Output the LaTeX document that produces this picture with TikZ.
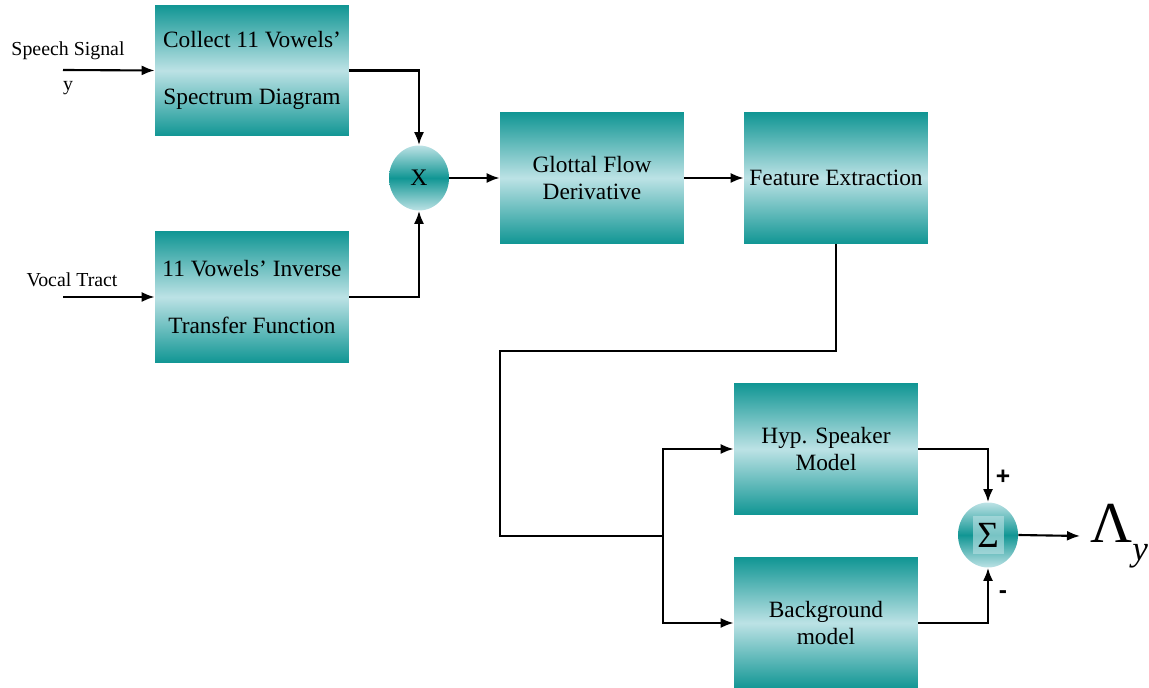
\documentclass[tikz,border=0pt]{standalone}
\usepackage{fontspec}
\setmainfont{Liberation Serif}
\newfontfamily\signfont{Liberation Sans}
\usetikzlibrary{arrows.meta,shapes.geometric}
\definecolor{tealdark}{RGB}{17,150,148}
\definecolor{teallight}{RGB}{188,226,229}
\tikzset{
	block/.style={rectangle,inner sep=0pt,minimum width=3.68cm,minimum height=2.62cm,
		top color=tealdark,bottom color=tealdark,middle color=teallight,
		align=center,font=\fontsize{13.3}{15.5}\selectfont},
	wideblock/.style={block,minimum width=3.88cm},
	joint/.style={ellipse,inner sep=0pt,minimum width=1.2cm,minimum height=1.3cm,
		top color=teallight,bottom color=teallight,middle color=tealdark},
	label/.style={font=\fontsize{11.3}{13}\selectfont,inner sep=0pt},
	wire/.style={line width=1.2pt},
}
\begin{document}
\begin{tikzpicture}[x=.02cm,y=-.02cm,>={Latex[length=2.6mm,width=2mm]}]
				\useasboundingbox (0,0) rectangle (1149,688);
				% blocks
				\node[wideblock] (collect) at (252,70.5) {Collect 11 Vowels'\\[17pt]Spectrum Diagram};
				\node[wideblock] (inverse) at (252,297) {11 Vowels' Inverse\\[17pt]Transfer Function};
				\node[block] (glottal) at (592,178) {Glottal Flow\\Derivative};
				\node[block] (feature) at (836,178) {Feature Extraction};
				\node[block] (hyp) at (826,449) {Hyp. Speaker\\Model};
				\node[block] (bg) at (826,623) {Background\\model};
				\node[joint] (mult) at (419,178) {\fontsize{13.5}{15}\selectfont X};
				\node[joint] (sum) at (988,535) {};
				\node[fill=teallight,fill opacity=.6,text opacity=1,inner sep=0pt,minimum width=.62cm,minimum height=.78cm,font=\fontsize{21}{24}\selectfont] (sigma) at (sum.center) {Σ};
				% inputs
				\coordinate (speechin) at (63,70);
				\coordinate (vocalin) at (63,297);
				\node[label] (speechlab) at (68,51) {Speech Signal};
				\node[label] (ylab) at (68,88) {y};
				\node[label] (vocallab) at (72,280) {Vocal Tract};
				\draw[wire,->] (speechin) -- (collect.west);
				\draw[wire,->] (vocalin) -- (inverse.west);
				\draw[wire,->] (collect.east) -| (mult.north);
				\draw[wire,->] (inverse.east) -| (mult.south);
				\draw[wire,->] (mult.east) -- (glottal.west);
				\draw[wire,->] (glottal.east) -- (feature.west);
				% feature to models
				\coordinate (turnA) at (836,351);
				\coordinate (turnB) at (500,351);
				\coordinate (turnC) at (500,536);
				\coordinate (split) at (663,536);
				\draw[wire] (feature.south) -- (turnA) -- (turnB) -- (turnC) -- (split);
				\draw[wire,->] (split) |- (hyp.west);
				\draw[wire,->] (split) |- (bg.west);
				\draw[wire,->] (hyp.east) -| (sum.north);
				\draw[wire,->] (bg.east) -| (sum.south);
				\node[font=\signfont\bfseries\fontsize{14}{16}\selectfont] (plus) at (1003,477) {+};
				\node[font=\signfont\bfseries\fontsize{14}{16}\selectfont] (minus) at (1003,595) {-};
				% output
				\coordinate (out) at (1080,536);
				\draw[wire,->] (sum.east) -- (out);
				\node[anchor=west,inner sep=0pt,font=\fontsize{33}{36}\selectfont] (lambda) at (1090,536) {Λ\raisebox{-.3em}{\fontsize{20}{24}\selectfont\itshape y}};
			\end{tikzpicture}
\end{document}
